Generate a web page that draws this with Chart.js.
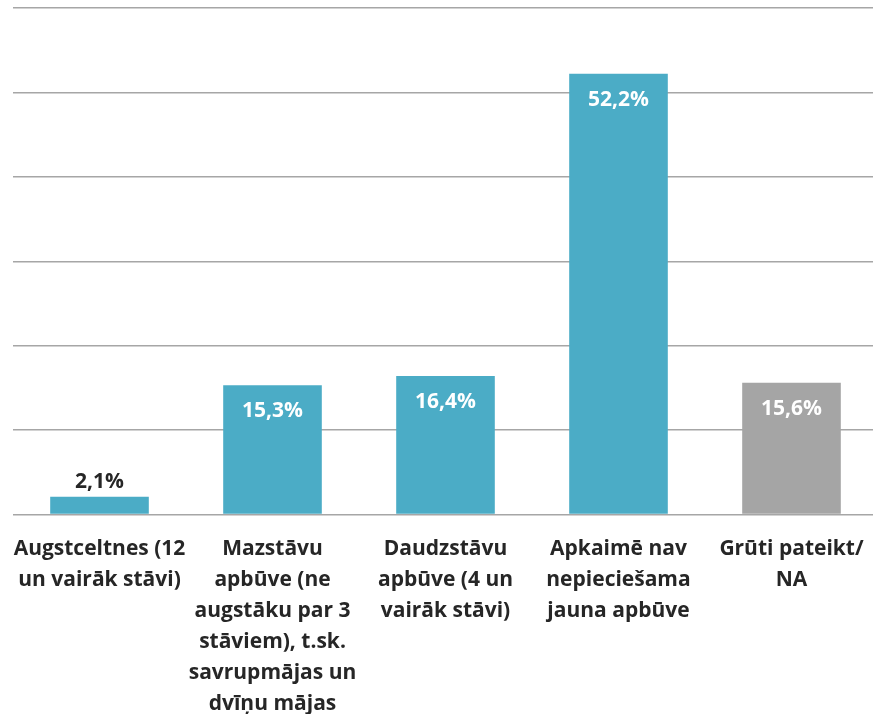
<!DOCTYPE html>
<html>
<head>
<meta charset="utf-8">
<script src="https://cdn.jsdelivr.net/npm/chart.js@4"></script>
<style>
    html, body { margin: 0; padding: 0; background: #fff; overflow: hidden; }
    #clip { width: 873px; height: 714px; overflow: hidden; }
    #wrap { width: 878px; height: 731px; }
</style>
</head>
<body>
<div id="clip"><div id="wrap"><canvas id="myChart"></canvas></div></div>
<script>
const categories = [
    ["Augstceltnes (12", "un vairāk stāvi)"],
    ["Mazstāvu", "apbūve (ne", "augstāku par 3", "stāviem), t.sk.", "savrupmājas un", "dvīņu mājas"],
    ["Daudzstāvu", "apbūve (4 un", "vairāk stāvi)"],
    ["Apkaimē nav", "nepieciešama", "jauna apbūve"],
    ["Grūti pateikt/", "NA"]
];
const values = [2.1, 15.3, 16.4, 52.2, 15.6];
const barColors = ['#4bacc6', '#4bacc6', '#4bacc6', '#4bacc6', '#a5a5a5'];
const yTicks = [0, 10, 20, 30, 40, 50, 60];

const fontFamily = '"Open Sans", Lato, sans-serif';

// value labels on the bars (inside if there is room, above otherwise)
const valueLabels = {
    id: 'valueLabels',
    afterDatasetsDraw(chart) {
        const ctx = chart.ctx;
        const meta = chart.getDatasetMeta(0);
        ctx.save();
        ctx.font = 'bold 21px ' + fontFamily;
        ctx.textAlign = 'center';
        ctx.textBaseline = 'middle';
        meta.data.forEach((bar, i) => {
            const v = values[i];
            const text = v.toFixed(1).replace('.', ',') + '%';
            const h = bar.base - bar.y;
            if (h > 45) {
                ctx.fillStyle = '#ffffff';
                ctx.fillText(text, bar.x, bar.y + 26);
            } else {
                ctx.fillStyle = '#262626';
                ctx.fillText(text, bar.x, bar.y - 15);
            }
        });
        ctx.restore();
    }
};

new Chart(document.getElementById('myChart').getContext('2d'), {
    type: 'bar',
    data: {
        labels: categories,
        datasets: [{
            data: values,
            backgroundColor: barColors,
            borderWidth: 0,
            categoryPercentage: 1,
            barPercentage: 0.57
        }]
    },
    options: {
        responsive: true,
        maintainAspectRatio: false,
        animation: false,
        layout: { padding: { top: 8, left: 13, right: 0, bottom: 0 } },
        plugins: {
            legend: { display: false },
            tooltip: { enabled: false }
        },
        scales: {
            x: {
                grid: { display: false },
                border: { display: false },
                ticks: {
                    color: '#262626',
                    font: { family: fontFamily, size: 21, weight: 'bold', lineHeight: 1.48 },
                    maxRotation: 0,
                    autoSkip: false,
                    padding: 11
                }
            },
            y: {
                min: yTicks[0],
                max: yTicks[yTicks.length - 1],
                afterBuildTicks(axis) {
                    axis.ticks = yTicks.map(v => ({ value: v }));
                },
                grid: { color: '#a6a6a6', lineWidth: 1.5, drawTicks: false },
                border: { display: false },
                ticks: { display: false }
            }
        }
    },
    plugins: [valueLabels]
});
</script>
</body>
</html>
